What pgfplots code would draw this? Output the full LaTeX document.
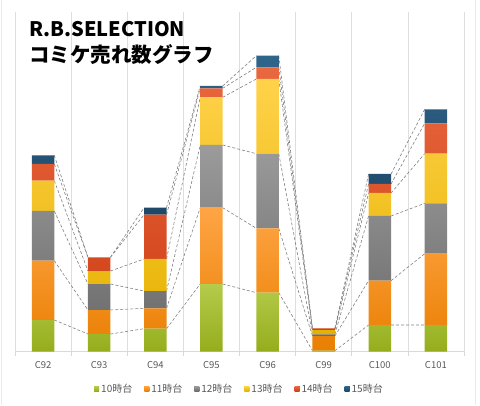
\documentclass[border=0pt]{standalone}
\usepackage{fontspec}
\setmainfont{Noto Sans CJK JP}
\usepackage{pgfplots}
\usepackage{pgfplotstable}
\pgfplotsset{compat=1.18}

\definecolor{gT}{HTML}{B4CB4C}\definecolor{gB}{HTML}{95AD1C}\definecolor{gM}{HTML}{A3BD2E}
\definecolor{oT}{HTML}{FFA545}\definecolor{oB}{HTML}{E97F02}\definecolor{oM}{HTML}{F79620}
\definecolor{aT}{HTML}{9B9B9B}\definecolor{aB}{HTML}{6B6B6B}\definecolor{aM}{HTML}{858585}
\definecolor{yT}{HTML}{FFD24A}\definecolor{yB}{HTML}{E5B200}\definecolor{yM}{HTML}{F8C400}
\definecolor{rT}{HTML}{E9683F}\definecolor{rB}{HTML}{CF3F16}\definecolor{rM}{HTML}{E0502A}
\definecolor{bT}{HTML}{30658A}\definecolor{bB}{HTML}{1D4868}\definecolor{bM}{HTML}{265878}
\definecolor{txt}{HTML}{595959}

% segment heights per event (10,11,12,13,14,15 o'clock)
\pgfplotstableread{
x  g     o     a     y     r     b
0  31.7  59.3  49.7  30.3  16.7  8.7
1  17.7  24.0  26.0  13.0  13.7  0
2  23.0  20.4  17.3  32.0  44.3  7.0
3  67.7  76.3  62.7  47.7  9.0   2.3
4  59.0  64.4  74.6  74.7  11.7  11.6
5  1.0   14.7  1.7   4.3   1.7   0
6  26.7  44.3  64.7  23.0  9.0   10.0
7  26.7  71.3  50.4  49.6  30.4  14.0
}\datatable

\begin{document}
\begin{tikzpicture}
\path[use as bounding box] (0,0) rectangle (480pt,405pt);
\draw[black!8] (1pt,0) -- (1pt,405pt);
\draw[black!8] (475pt,0) -- (475pt,405pt);

% grid and series lines (cumulative tops)
\begin{axis}[
  at={(15pt,53.3pt)}, anchor=south west,
  width=449pt, height=339.7pt, scale only axis,
  xmin=-0.5, xmax=7.5, ymin=0, ymax=339.7,
  axis x line*=bottom, axis y line=none,
  x axis line style={black!15, line width=0.6pt},
  xtick={-0.5,0.5,...,7.5}, xticklabels={},
  major tick length=4pt, tick align=outside,
  tick style={black!15, line width=0.6pt},
  xmajorgrids, major grid style={black!13, line width=0.6pt},
  unbounded coords=jump,
]
\pgfplotsset{sl/.style={black!50, dash pattern=on 3pt off 2pt, line width=0.6pt, mark=none}}
\addplot[sl] coordinates {(0.2,31.7)(0.8,17.7)(1,nan)(1.2,17.7)(1.8,23)(2,nan)(2.2,23)(2.8,67.7)(3,nan)(3.2,67.7)(3.8,59)(4,nan)(4.2,59)(4.8,1)(5,nan)(5.2,1)(5.8,26.7)(6,nan)(6.2,26.7)(6.8,26.7)};
\addplot[sl] coordinates {(0.2,91)(0.8,41.7)(1,nan)(1.2,41.7)(1.8,43.4)(2,nan)(2.2,43.4)(2.8,144)(3,nan)(3.2,144)(3.8,123.4)(4,nan)(4.2,123.4)(4.8,15.7)(5,nan)(5.2,15.7)(5.8,71)(6,nan)(6.2,71)(6.8,98)};
\addplot[sl] coordinates {(0.2,140.7)(0.8,67.7)(1,nan)(1.2,67.7)(1.8,60.7)(2,nan)(2.2,60.7)(2.8,206.7)(3,nan)(3.2,206.7)(3.8,198)(4,nan)(4.2,198)(4.8,17.4)(5,nan)(5.2,17.4)(5.8,135.7)(6,nan)(6.2,135.7)(6.8,148.4)};
\addplot[sl] coordinates {(0.2,171)(0.8,80.7)(1,nan)(1.2,80.7)(1.8,92.7)(2,nan)(2.2,92.7)(2.8,254.4)(3,nan)(3.2,254.4)(3.8,272.7)(4,nan)(4.2,272.7)(4.8,21.7)(5,nan)(5.2,21.7)(5.8,158.7)(6,nan)(6.2,158.7)(6.8,198)};
\addplot[sl] coordinates {(0.2,187.7)(0.8,94.4)(1,nan)(1.2,94.4)(1.8,137)(2,nan)(2.2,137)(2.8,263.4)(3,nan)(3.2,263.4)(3.8,284.4)(4,nan)(4.2,284.4)(4.8,23.4)(5,nan)(5.2,23.4)(5.8,167.7)(6,nan)(6.2,167.7)(6.8,228.4)};
\addplot[sl] coordinates {(0.2,196.4)(0.8,94.4)(1,nan)(1.2,94.4)(1.8,144)(2,nan)(2.2,144)(2.8,265.7)(3,nan)(3.2,265.7)(3.8,296)(4,nan)(4.2,296)(4.8,23.4)(5,nan)(5.2,23.4)(5.8,177.7)(6,nan)(6.2,177.7)(6.8,242.4)};
\end{axis}

\begin{axis}[
  at={(15pt,53.3pt)}, anchor=south west,
  width=449pt, height=339.7pt, scale only axis,
  xmin=-0.5, xmax=7.5, ymin=0, ymax=339.7,
  ybar stacked, bar width=22.4pt,
  axis x line*=bottom, axis y line=none,
  x axis line style={draw=none},
  xtick=data, xticklabels={C92,C93,C94,C95,C96,C99,C100,C101},
  major tick length=0pt,
  xticklabel style={font=\fontsize{9.5}{11}\selectfont, text=txt, yshift=-6.5pt},
  legend columns=6,
  legend style={draw=none, fill=none, at={(0.5,0)}, anchor=center, yshift=-37pt,
    font=\fontsize{10}{11}\selectfont, text=txt,
    /tikz/every even column/.append style={column sep=10pt}},
  legend cell align=left,
]
\addplot[draw=none, top color=gT, bottom color=gB, legend image code/.code={\fill[gM] (0pt,-2.5pt) rectangle (5pt,2.5pt);}] table[x=x,y=g] {\datatable};
\addplot[draw=none, top color=oT, bottom color=oB, legend image code/.code={\fill[oM] (0pt,-2.5pt) rectangle (5pt,2.5pt);}] table[x=x,y=o] {\datatable};
\addplot[draw=none, top color=aT, bottom color=aB, legend image code/.code={\fill[aM] (0pt,-2.5pt) rectangle (5pt,2.5pt);}] table[x=x,y=a] {\datatable};
\addplot[draw=none, top color=yT, bottom color=yB, legend image code/.code={\fill[yM] (0pt,-2.5pt) rectangle (5pt,2.5pt);}] table[x=x,y=y] {\datatable};
\addplot[draw=none, top color=rT, bottom color=rB, legend image code/.code={\fill[rM] (0pt,-2.5pt) rectangle (5pt,2.5pt);}] table[x=x,y=r] {\datatable};
\addplot[draw=none, top color=bT, bottom color=bB, legend image code/.code={\fill[bM] (0pt,-2.5pt) rectangle (5pt,2.5pt);}] table[x=x,y=b] {\datatable};
\legend{10時台,11時台,12時台,13時台,14時台,15時台}
\end{axis}

\node[anchor=base west, inner sep=0pt, font=\bfseries\fontsize{20}{24}\selectfont] at (29pt,368pt) {R.B.SELECTION};
\node[anchor=base west, inner sep=0pt, font=\bfseries\fontsize{20.5}{24}\selectfont] at (29pt,342pt) {コミケ売れ数グラフ};
\end{tikzpicture}
\end{document}
